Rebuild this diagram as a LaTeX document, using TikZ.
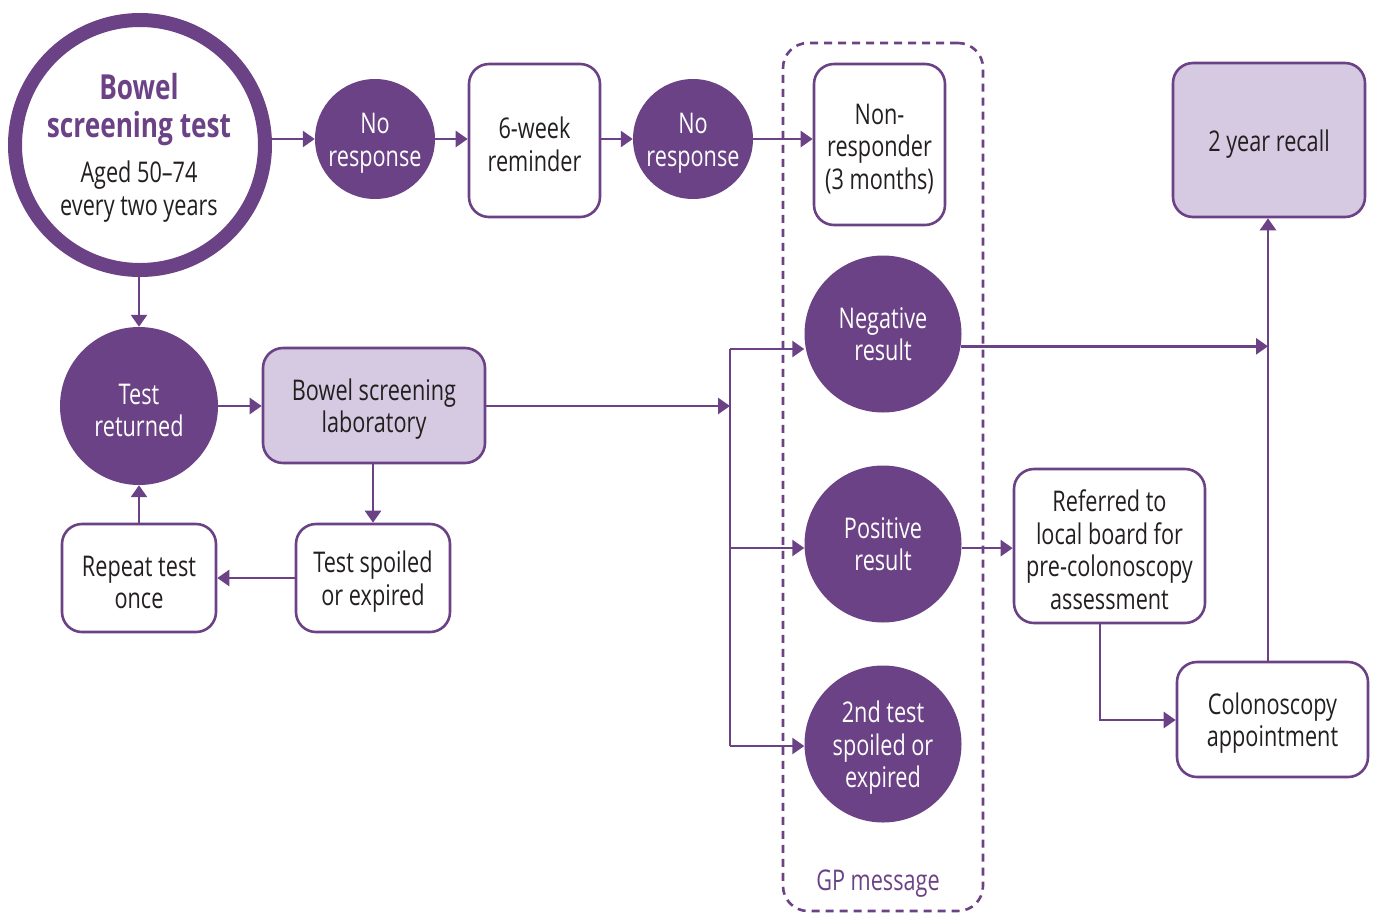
\documentclass[tikz,border=0pt]{standalone}
\usepackage{fontspec}
\setmainfont[FakeStretch=0.76]{Open Sans}
\usetikzlibrary{arrows.meta}
\definecolor{pur}{RGB}{107,66,133}
\definecolor{lav}{RGB}{213,202,225}
\definecolor{txt}{RGB}{35,31,32}
\newcommand\dfont{\fontsize{28.5}{32.5}\selectfont}
\newcommand\up{\rule{0pt}{29pt}}
\begin{document}
\begin{tikzpicture}[x=1pt,y=-1pt,
  box/.style={draw=pur, line width=2.6pt, rounded corners=20pt, fill=white, text=txt, align=center, font=\dfont, inner sep=0pt},
  lbox/.style={box, fill=lav},
  dot/.style={circle, fill=pur, draw=none, text=white, align=center, font=\dfont, inner sep=0pt},
  arr/.style={draw=pur, line width=2.6pt, -{Triangle[length=12pt,width=16pt]}},
  ln/.style={draw=pur, line width=2.6pt}
]
\useasboundingbox (0,0) rectangle (1379,914);
% GP message group
\node[draw=pur, line width=2.6pt, dash pattern=on 8pt off 6pt, rounded corners=25pt, minimum width=200pt, minimum height=868pt, inner sep=0pt] (gpbox) at (883,477) {};
\node[text=pur, font=\dfont] (gp) at (878,884) {GP message};

% top row
\node[circle, draw=pur, line width=14pt, fill=white, minimum size=250pt, inner sep=0pt, align=center] (big) at (140,145) {};
\node[align=center, text=pur, font=\fontsize{34.5}{38}\selectfont\bfseries] (bigt) at (139,110) {Bowel\\screening test};
\node[align=center, text=txt, font=\fontsize{28.5}{33}\selectfont] (bigs) at (139,192) {Aged 50--74\\every two years};
\node[dot, minimum size=120pt] (nr1) at (375,139) {\up No\\response};
\node[box, minimum width=131pt, minimum height=153pt] (rem) at (534.5,140.5) {\up 6-week\\reminder};
\node[dot, minimum size=120pt] (nr2) at (693,139) {\up No\\response};
\node[box, minimum width=131pt, minimum height=161pt] (nonr) at (879.5,144.5) {\up Non-\\responder\\(3 months)};
\node[lbox, minimum width=192pt, minimum height=154pt] (recall) at (1269,140) {\up 2 year recall};

% GP circles
\node[dot, minimum size=157pt] (neg) at (883,334) {Negative\\result};
\node[dot, minimum size=157pt] (pos) at (883,544) {Positive\\result};
\node[dot, minimum size=157pt] (sec) at (883,744) {\up 2nd test\\spoiled or\\expired};

% left
\node[dot, minimum size=158pt] (ret) at (139,406) {\up Test\\returned};
\node[lbox, minimum width=222pt, minimum height=115pt] (lab) at (374,405.5) {\up Bowel screening\\laboratory};
\node[box, minimum width=154pt, minimum height=108pt] (spoil) at (373,578) {\up Test spoiled\\or expired};
\node[box, minimum width=154pt, minimum height=108pt] (rep) at (139,578) {\up Repeat test\\once};

% right
\node[box, minimum width=191pt, minimum height=154pt] (ref) at (1109.5,546) {\up Referred to\\local board for\\pre-colonoscopy\\assessment};
\node[box, minimum width=191pt, minimum height=115pt] (col) at (1272.5,719.5) {\up Colonoscopy\\appointment};

% coordinates
\coordinate (jm) at (730,406);
\coordinate (j1) at (730,349);
\coordinate (j2) at (730,548);
\coordinate (j3) at (730,746);
\coordinate (jr) at (1268,346);
\coordinate (rc) at (1100,720);

% connectors
\draw[arr] (big.east |- nr1) -- (nr1);
\draw[arr] (nr1) -- (rem.west |- nr1);
\draw[arr] (rem.east |- nr2) -- (nr2);
\draw[arr] (nr2) -- (nonr.west |- nr2);
\draw[arr] (big.south -| ret) -- (ret);
\draw[arr] (ret) -- (lab.west |- ret);
\draw[arr] (lab.east |- jm) -- (jm);
\draw[ln] (j1) -- (j3);
\draw[arr] (j1) -- (j1 -| neg.west);
\draw[arr] (j2) -- (j2 -| pos.west);
\draw[arr] (j3) -- (j3 -| sec.west);
\draw[arr] (neg.-9) -- (neg.-9 -| jr);
\draw[arr] (col.north -| jr) -- (recall.south -| jr);
\draw[arr] (pos.-3) -- (pos.-3 -| ref.west);
\draw[arr] (ref.south -| rc) -- (rc) -- (col.west |- rc);
\draw[arr] (lab.south -| spoil) -- (spoil);
\draw[arr] (spoil) -- (rep);
\draw[arr] (rep) -- (ret);
\end{tikzpicture}
\end{document}
